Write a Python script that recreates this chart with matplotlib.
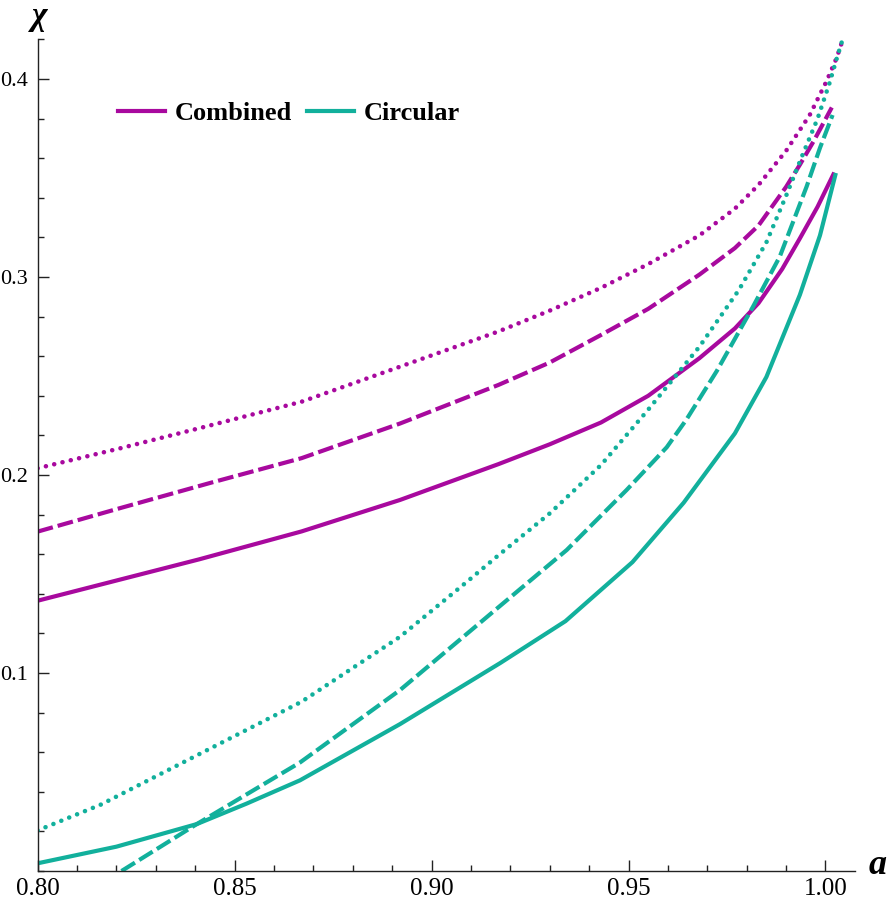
import matplotlib
matplotlib.use("Agg")
import matplotlib.pyplot as plt
from matplotlib.lines import Line2D
from matplotlib.ticker import MultipleLocator, FormatStrFormatter

# Combined (magenta): solid, dashed, dotted
comb_solid_a = [0.800, 0.820, 0.841, 0.867, 0.892, 0.917, 0.930, 0.943, 0.955, 0.968, 0.977, 0.983,
                0.989, 0.9935, 0.998, 1.002]
comb_solid_y = [0.1365, 0.1467, 0.1574, 0.1715, 0.1874, 0.2055, 0.2155, 0.2265, 0.2400, 0.2590, 0.2740, 0.2868,
                0.3040, 0.3195, 0.3355, 0.3518]

comb_dash_a = [0.800, 0.821, 0.844, 0.867, 0.892, 0.917, 0.930, 0.943, 0.955, 0.968, 0.977, 0.983,
               0.990, 0.9935, 0.997, 1.0016]
comb_dash_y = [0.1714, 0.1833, 0.1961, 0.2085, 0.2260, 0.2455, 0.2568, 0.2707, 0.2839, 0.3012, 0.3146, 0.3260,
               0.3455, 0.3567, 0.3686, 0.3856]

comb_dot_a = [0.800, 0.821, 0.841, 0.867, 0.892, 0.917, 0.930, 0.943, 0.955, 0.968, 0.977, 0.983,
              0.990, 0.996, 1.0003, 1.0028, 1.0045]
comb_dot_y = [0.2034, 0.2135, 0.2236, 0.2370, 0.2547, 0.2725, 0.2830, 0.2945, 0.3065, 0.3210, 0.3345, 0.3465,
              0.3637, 0.3818, 0.3990, 0.4105, 0.4205]

# Circular (teal): solid, dashed, dotted
circ_solid_a = [0.800, 0.820, 0.8404, 0.853, 0.8666, 0.892, 0.9174, 0.934, 0.951, 0.964, 0.977, 0.985,
                0.9935, 0.9986, 1.0025]
circ_solid_y = [0.0039, 0.0123, 0.0237, 0.0340, 0.0458, 0.0742, 0.1050, 0.1262, 0.1560, 0.1860, 0.2210, 0.2495,
                0.2910, 0.3210, 0.3515]

circ_dash_a = [0.8213, 0.8404, 0.8666, 0.892, 0.9174, 0.9343, 0.9495, 0.9597, 0.9647, 0.9724, 0.9816, 0.9884,
               0.9952, 0.9986, 1.0018]
circ_dash_y = [0.0, 0.0237, 0.0548, 0.0914, 0.1339, 0.1621, 0.1924, 0.2140, 0.2280, 0.2525, 0.2850, 0.3103,
               0.3456, 0.3652, 0.3818]

circ_dot_a = [0.800, 0.816, 0.841, 0.867, 0.892, 0.909, 0.917, 0.930, 0.943, 0.955, 0.968, 0.978,
              0.985, 0.990, 0.994, 0.998, 1.001, 1.003, 1.0043]
circ_dot_y = [0.0205, 0.0335, 0.0590, 0.0855, 0.1183, 0.1461, 0.1595, 0.1806, 0.2050, 0.2330, 0.2648, 0.2934,
              0.3175, 0.3410, 0.3608, 0.3800, 0.3978, 0.4113, 0.4197]

magenta = "#A8099E"
teal = "#12B09C"

plt.rcParams['font.family'] = ['Liberation Serif', 'DejaVu Serif']

fig = plt.figure(figsize=(8.89, 9.06), dpi=100)
ax = fig.add_axes([0.0423, 0.0386, 0.9195, 0.9184])

lw = 3.0
dash = (0, (3.8, 1.2))
dot = (0, (0.01, 1.85))

ax.plot(comb_solid_a, comb_solid_y, color=magenta, lw=lw, solid_joinstyle='round')
ax.plot(comb_dash_a, comb_dash_y, color=magenta, lw=lw, linestyle=dash)
ax.plot(comb_dot_a, comb_dot_y, color=magenta, lw=3.3, linestyle=dot, dash_capstyle='round')
ax.plot(circ_solid_a, circ_solid_y, color=teal, lw=lw, solid_joinstyle='round')
ax.plot(circ_dash_a, circ_dash_y, color=teal, lw=lw, linestyle=dash)
ax.plot(circ_dot_a, circ_dot_y, color=teal, lw=3.3, linestyle=dot, dash_capstyle='round')

ax.set_xlim(0.80, 1.0075)
ax.set_ylim(0, 0.4202)

for s in ['top', 'right']:
    ax.spines[s].set_visible(False)
for s in ['left', 'bottom']:
    ax.spines[s].set_linewidth(1.0)
    ax.spines[s].set_color('#222222')

ax.xaxis.set_major_locator(MultipleLocator(0.05))
ax.xaxis.set_minor_locator(MultipleLocator(0.01))
ax.xaxis.set_major_formatter(FormatStrFormatter('%.2f'))
ax.set_yticks([0.1, 0.2, 0.3, 0.4])
ax.yaxis.set_minor_locator(MultipleLocator(0.02))
ax.yaxis.set_major_formatter(FormatStrFormatter('%.1f'))

ax.tick_params(which='both', direction='in', color='#222222', width=1.0)
ax.tick_params(which='major', length=8)
ax.tick_params(which='minor', length=4.5)
ax.tick_params(axis='x', pad=5, labelsize=18)
ax.tick_params(axis='y', pad=7, labelsize=16)

fig.text(40 / 889, 1 - 17 / 906, "\u03c7", fontsize=24, fontweight='bold', fontstyle='italic',
         ha='center', va='center')
fig.text(878 / 889, 1 - 866 / 906, "a", fontsize=26, fontweight='bold', fontstyle='italic',
         ha='center', va='center')

handles = [Line2D([], [], color=magenta, lw=lw), Line2D([], [], color=teal, lw=lw)]
leg = ax.legend(handles, ["Combined", "Circular"], loc='center left', bbox_to_anchor=(0.0985, 0.911),
                ncol=2, frameon=False, borderpad=0, borderaxespad=0, handlelength=1.78,
                handletextpad=0.38, columnspacing=0.55, prop={'weight': 'bold', 'size': 19})

fig.savefig("out.png", dpi=100)
